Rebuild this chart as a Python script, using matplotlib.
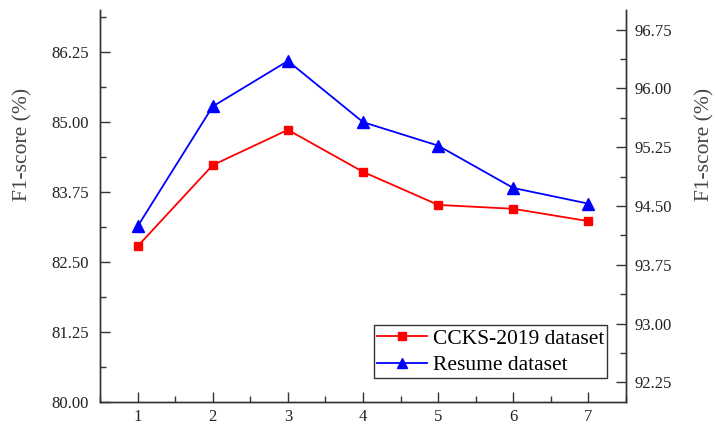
import matplotlib.pyplot as plt
from matplotlib.ticker import MultipleLocator, FormatStrFormatter

# values
x = [1, 2, 3, 4, 5, 6, 7]
ccks = [82.78, 84.23, 84.86, 84.11, 83.52, 83.45, 83.23]
resume = [94.24, 95.77, 96.35, 95.57, 95.27, 94.73, 94.53]
labels = ['CCKS-2019 dataset', 'Resume dataset']

plt.rcParams['font.family'] = ['Liberation Serif', 'DejaVu Serif']
axcol = '#333333'

fig = plt.figure(figsize=(7.18, 4.26), dpi=100)
ax = fig.add_axes([0.1393, 0.0563, 0.7326, 0.9202])
ax2 = ax.twinx()

l1, = ax.plot(x, ccks, color='#ff0000', marker='s', markersize=6, lw=1.3, label=labels[0])
l2, = ax2.plot(x, resume, color='#0000ff', marker='^', markersize=8, lw=1.3, label=labels[1])

ax.set_xlim(0.5, 7.5)
ax.set_ylim(80, 87)
ax.xaxis.set_major_locator(MultipleLocator(1))
ax.xaxis.set_minor_locator(MultipleLocator(0.5))
ax.yaxis.set_major_locator(MultipleLocator(1.25))
ax.yaxis.set_minor_locator(MultipleLocator(0.625))
ax.yaxis.set_major_formatter(FormatStrFormatter('%.2f'))
ax2.yaxis.set_major_locator(MultipleLocator(0.75))
ax2.yaxis.set_minor_locator(MultipleLocator(0.375))
ax2.yaxis.set_major_formatter(FormatStrFormatter('%.2f'))
ax2.set_ylim(92, 97)

for a in (ax, ax2):
    a.spines['top'].set_visible(False)
    for s in ('left', 'right', 'bottom'):
        a.spines[s].set_color(axcol)
        a.spines[s].set_linewidth(1.0)
    a.tick_params(which='major', direction='in', length=7, width=1, color=axcol, labelsize=12, labelcolor='#222222')
    a.tick_params(which='minor', direction='in', length=4, width=1, color=axcol)

ax.tick_params(axis='x', pad=5)
ax.tick_params(axis='y', pad=8)
ax2.tick_params(axis='y', pad=6)

ax.set_ylabel('F1-score (%)', fontsize=15.5, color='#444444')
ax2.set_ylabel('F1-score (%)', fontsize=15.5, color='#444444')
ax.yaxis.set_label_coords(-0.128, 0.658)
ax2.yaxis.set_label_coords(1.131, 0.658)

leg = ax.legend([l1, l2], labels, loc='lower right', bbox_to_anchor=(0.9645, 0.06),
                fontsize=15.5, frameon=True, fancybox=False, edgecolor='black',
                handlelength=2.3, borderpad=0.15, labelspacing=0.3, handletextpad=0.28,
                borderaxespad=0, markerscale=0.9)
leg.get_frame().set_linewidth(1.0)

fig.savefig('out.png', dpi=100)
